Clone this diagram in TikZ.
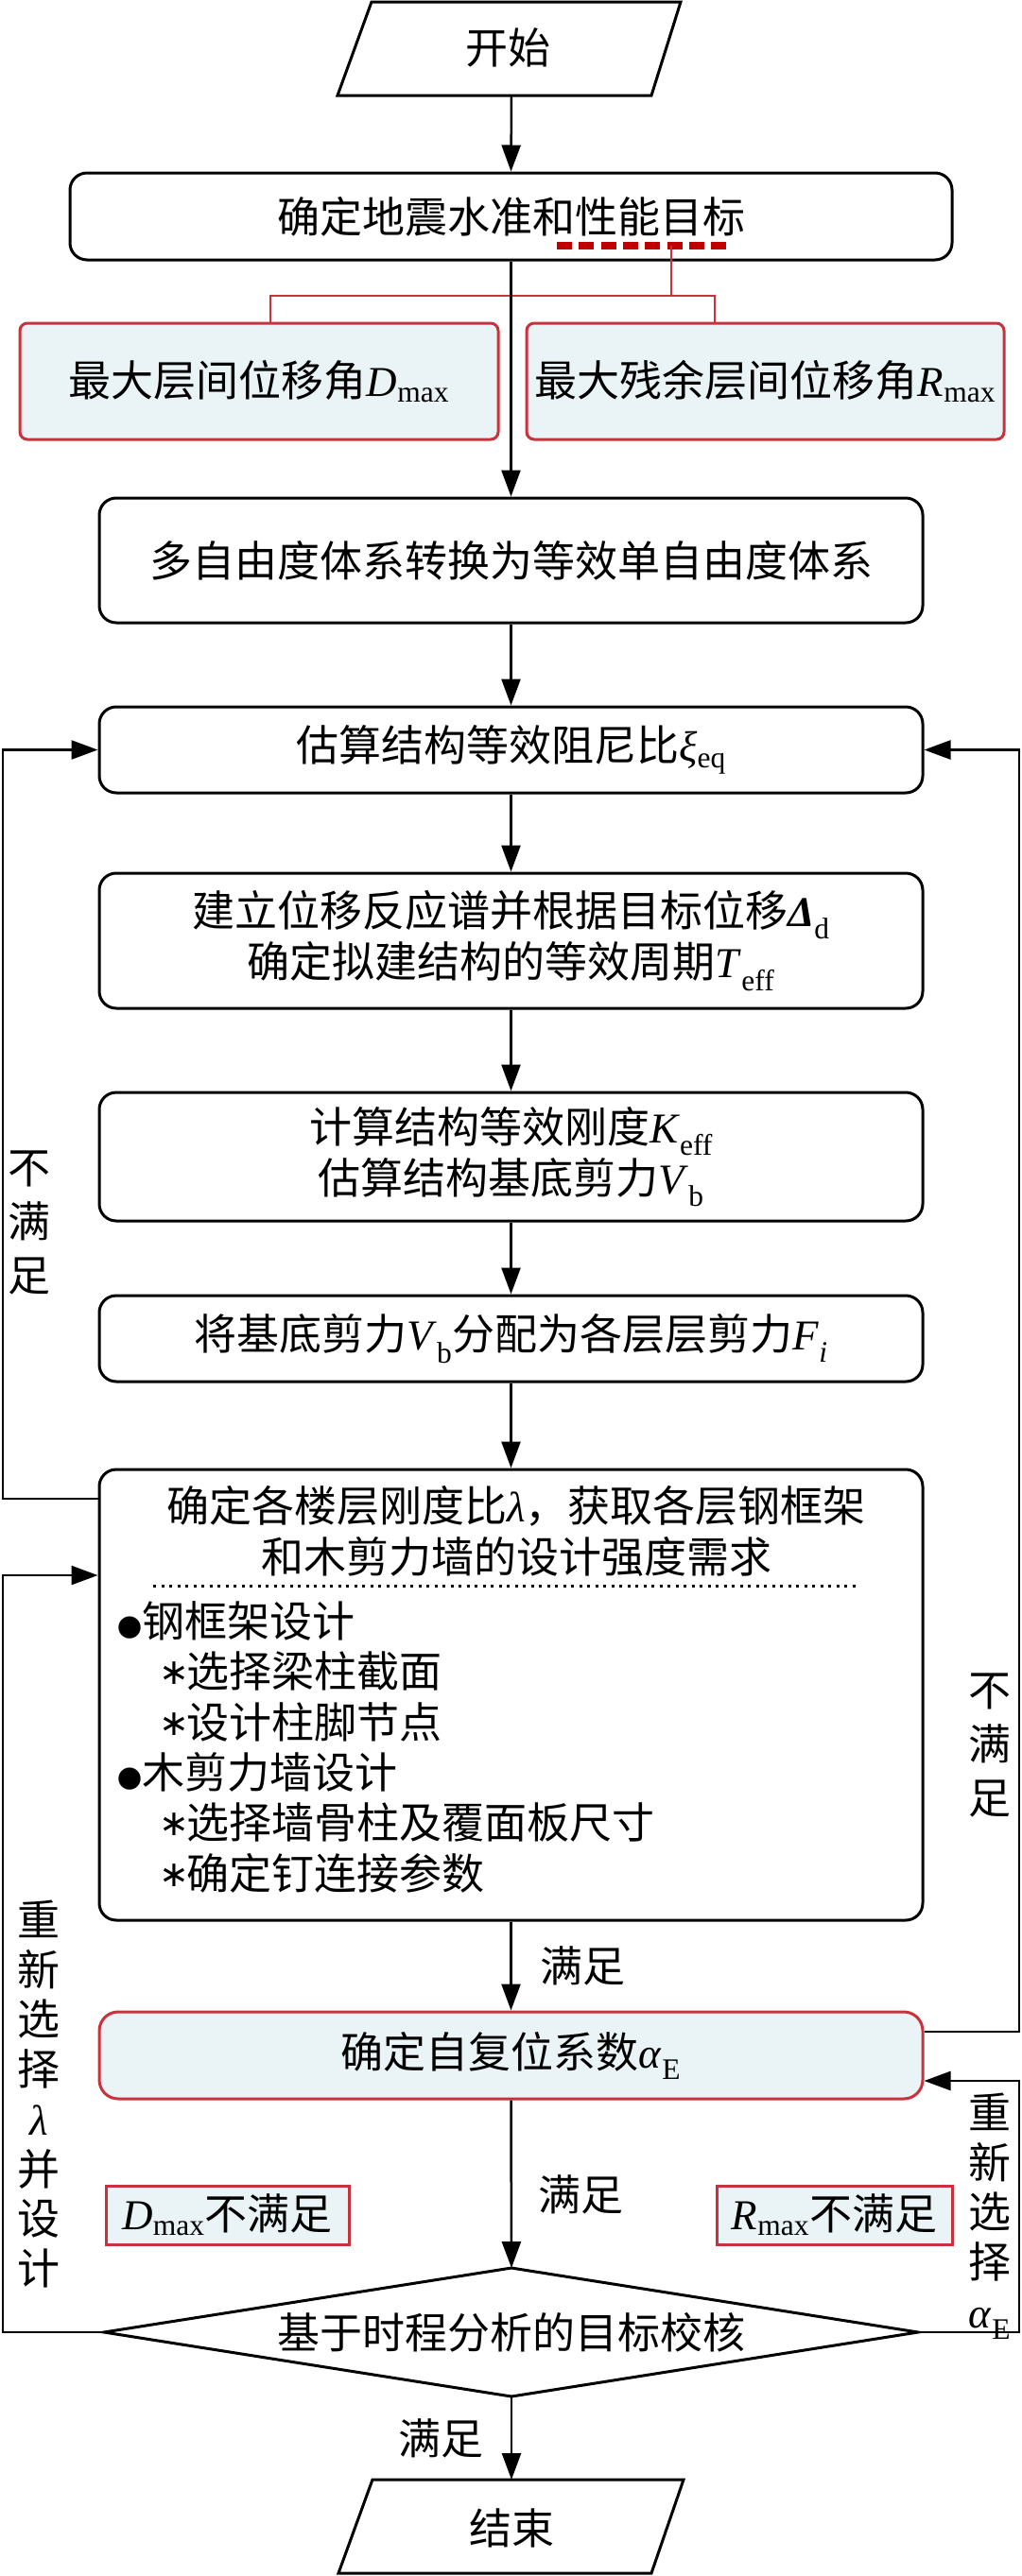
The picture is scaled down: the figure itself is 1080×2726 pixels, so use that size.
\documentclass[tikz,border=0pt]{standalone}
\usepackage{fontspec}
\setmainfont{Noto Sans CJK SC}
\newfontfamily\tnr{Liberation Serif}
\newfontfamily\djv{DejaVu Sans}
\usetikzlibrary{arrows.meta}
\definecolor{rline}{HTML}{C8323C}
\definecolor{rdash}{HTML}{C00000}
\definecolor{lblue}{HTML}{EAF4F7}
\newcommand{\Lsub}[2]{{\tnr\textit{#1}\textsubscript{#2}}}
\newcommand{\stargl}{\makebox[26pt][c]{\raisebox{3pt}{\djv\fontsize{38}{38}\selectfont ∗}}}
\tikzset{
  base/.style={inner sep=0pt, font=\fontsize{45}{54}\selectfont},
  box/.style={base, draw, line width=3pt, rounded corners=18pt, align=center},
  rbox/.style={base, draw=rline, fill=lblue, line width=3pt, align=center},
  arr/.style={line width=2.5pt, -{Triangle[length=28pt,width=20pt]}},
  shp/.style={line width=3pt},
  redl/.style={draw=rline, line width=2.5pt},
  vlbl/.style={base, align=center, font=\fontsize{45}{57}\selectfont},
  vlblb/.style={base, align=center, font=\fontsize{45}{52.7}\selectfont},
}
\begin{document}
\begin{tikzpicture}[x=1pt,y=-1pt]
\useasboundingbox (0,0) rectangle (1080,2726);

% start
\draw[shp] (393,2) -- (720,2) -- (689,101) -- (357,101) -- cycle;
\node[base] (st) at (537,50) {开始};
\coordinate (stB) at (541,101);

% box 1
\node[box, minimum width=933pt, minimum height=92pt] (b1) at (540.5,229) {\raisebox{4pt}{确定地震水准和性能目标}};

% red annotation
\coordinate (ulA) at (589,260);
\coordinate (ulB) at (770,260);
\coordinate (ulM) at (710,260);
\coordinate (rj) at (710,313);
\coordinate (rjL) at (286,313);
\coordinate (rjR) at (756,313);
\draw[rdash, line width=8pt, dash pattern=on 16pt off 7.3pt] (ulA) -- (ulB);
\node[rbox, rounded corners=8pt, minimum width=506pt, minimum height=123pt] (rL) at (274,403.5) {最大层间位移角\Lsub{D}{max}};
\node[rbox, rounded corners=8pt, minimum width=505pt, minimum height=123pt] (rR) at (809.5,403.5) {最大残余层间位移角\Lsub{R}{max}};
\draw[redl] (ulM) -- (rj);
\draw[redl] (rjL |- rL.north) -- (rjL) -- (rjR) -- (rjR |- rR.north);

% main boxes
\node[box, minimum width=871pt, minimum height=132pt] (b2) at (540.5,593) {多自由度体系转换为等效单自由度体系};
\node[box, minimum width=871pt, minimum height=91pt] (b3) at (540.5,793.5) {估算结构等效阻尼比{\tnr\textit{ξ}\textsubscript{eq}}};
\node[box, minimum width=871pt, minimum height=143pt] (b4) at (540.5,995.5) {建立位移反应谱并根据目标位移{\tnr\textbf{\textit{Δ}}\textsubscript{d}}\\确定拟建结构的等效周期\Lsub{T}{eff}};
\node[box, minimum width=871pt, minimum height=136pt] (b5) at (540.5,1224) {计算结构等效刚度\Lsub{K}{eff}\\估算结构基底剪力\Lsub{V}{b}};
\node[box, minimum width=871pt, minimum height=91pt] (b6) at (540.5,1416.5) {将基底剪力\Lsub{V}{b}分配为各层层剪力\Lsub{F}{\textit{i}}};
\node[box, minimum width=871pt, minimum height=477pt] (b7) at (540.5,1793.5) {};
\node[base, align=center] (b7t) at (546,1620) {确定各楼层刚度比{\tnr\textit{λ}}，获取各层钢框架\\和木剪力墙的设计强度需求};
\draw[line width=3pt, dash pattern=on 3pt off 5.5pt] (162,1678) -- (906,1678);
\node[base, anchor=west] (i1) at (124,1715) {{\fontsize{26}{26}\selectfont ●}钢框架设计};
\node[base, anchor=west] (i2) at (171,1768) {\stargl 选择梁柱截面};
\node[base, anchor=west] (i3) at (171,1822) {\stargl 设计柱脚节点};
\node[base, anchor=west] (i4) at (124,1875) {{\fontsize{26}{26}\selectfont ●}木剪力墙设计};
\node[base, anchor=west] (i5) at (171,1928) {\stargl 选择墙骨柱及覆面板尺寸};
\node[base, anchor=west] (i6) at (171,1982) {\stargl 确定钉连接参数};

\node[rbox, rounded corners=20pt, minimum width=871pt, minimum height=92pt] (b8) at (540.5,2175) {确定自复位系数{\tnr\textit{α}\textsubscript{E}}};

\node[rbox, minimum width=257pt, minimum height=62pt] (nD) at (240.5,2344) {\Lsub{D}{max}不满足};
\node[rbox, minimum width=249pt, minimum height=62pt] (nR) at (882.5,2344) {\Lsub{R}{max}不满足};

% diamond
\coordinate (dT) at (541,2400);
\coordinate (dR) at (971,2468);
\coordinate (dB) at (541,2536);
\coordinate (dL) at (110,2468);
\draw[shp] (dT) -- (dR) -- (dB) -- (dL) -- cycle;
\node[base] (dia) at (541,2468) {基于时程分析的目标校核};

% end
\draw[shp] (394,2624) -- (723,2624) -- (689,2723) -- (358,2723) -- cycle;
\node[base] (en) at (541,2675) {结束};
\coordinate (enT) at (541,2624);

% main flow
\draw[arr] (stB) -- (b1.north);
\draw[arr] (b1) -- (b2);
\draw[arr] (b2) -- (b3);
\draw[arr] (b3) -- (b4);
\draw[arr] (b4) -- (b5);
\draw[arr] (b5) -- (b6);
\draw[arr] (b6) -- (b7);
\draw[arr] (b7) -- node[base, anchor=west, xshift=30pt] (m1) {满足} (b8);
\draw[arr] (b8.south) -- node[base, pos=0.565, anchor=west, xshift=27pt] (m2) {满足} (dT);
\draw[arr] (dB) -- node[base, anchor=east, xshift=-28pt] (m3) {满足} (enT);

% loops
\coordinate (L1) at (3,1586);
\coordinate (L3) at (3,2468);
\coordinate (L4) at (3,1667);
\coordinate (R1) at (1078,2150);
\coordinate (R3) at (1078,2468);
\coordinate (R4) at (1078,2202);
\draw[arr] (b7.west |- L1) -- (L1) |- (b3.west);
\draw[arr] (b8.east |- R1) -- (R1) |- (b3.east);
\draw[arr] (dL) -- (L3) -- (L4) -- (b7.west |- L4);
\draw[arr] (dR) -- (R3) -- (R4) -- (b8.east |- R4);

% loop labels
\node[vlbl] (nm1) at (31,1294) {不\\满\\足};
\node[vlbl] (nm2) at (1047,1847) {不\\满\\足};
\node[vlblb] (rs1) at (41,2216) {重\\新\\选\\择\\{\tnr\textit{λ}}\\并\\设\\计};
\node[vlblb] (rs2) at (1047,2345) {重\\新\\选\\择\\{\tnr\textit{α}\textsubscript{E}}};
\end{tikzpicture}
\end{document}
